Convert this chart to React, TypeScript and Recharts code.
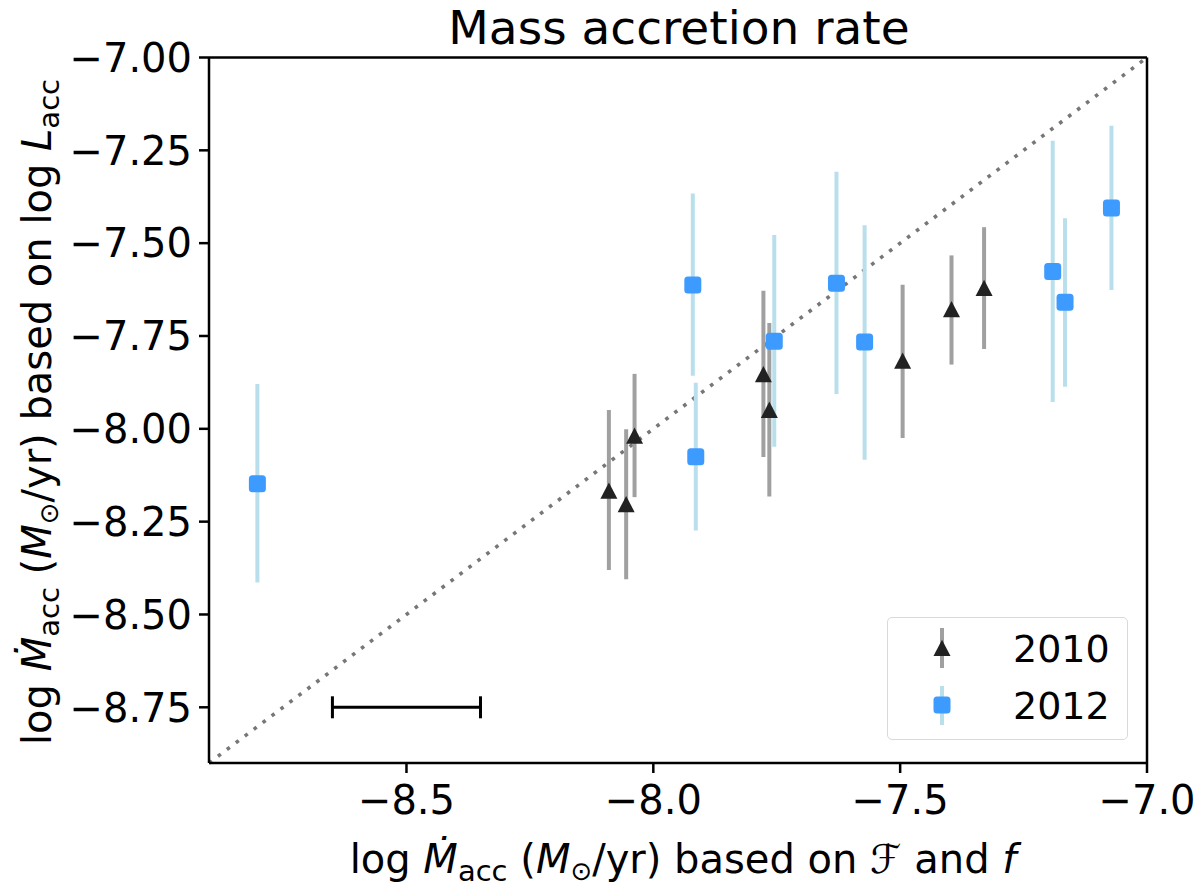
import React from "react";
import { ScatterChart, Scatter, XAxis, YAxis, ErrorBar, ReferenceLine } from "recharts";

// 2010 observations (black triangles)
const x2010 = [-8.09, -8.055, -8.038, -7.777, -7.765, -7.495, -7.396, -7.33];
const y2010 = [-8.167, -8.203, -8.019, -7.853, -7.949, -7.817, -7.678, -7.621];
const lo2010 = [-8.38, -8.405, -8.184, -8.076, -8.182, -8.025, -7.827, -7.785];
const hi2010 = [-7.949, -8.001, -7.852, -7.628, -7.715, -7.612, -7.533, -7.457];

// 2012 observations (blue squares)
const x2012 = [-8.802, -7.92, -7.914, -7.755, -7.629, -7.572, -7.191, -7.166, -7.072];
const y2012 = [-8.148, -7.613, -8.075, -7.764, -7.608, -7.766, -7.576, -7.659, -7.405];
const lo2012 = [-8.414, -7.857, -8.274, -8.048, -7.906, -8.083, -7.928, -7.887, -7.626];
const hi2012 = [-7.879, -7.366, -7.876, -7.478, -7.308, -7.452, -7.224, -7.433, -7.184];

// typical uncertainty bar
const scaleX = [-8.5];
const scaleY = [-8.75];
const scaleErr = [0.15];

const xTicks = [-8.5, -8.0, -7.5, -7.0];
const yTicks = [-7.0, -7.25, -7.5, -7.75, -8.0, -8.25, -8.5, -8.75];
const domain = [-8.9, -7.0];

const toRows = (xs: number[], ys: number[], lo: number[], hi: number[]) =>
  xs.map((x, i) => ({ x, y: ys[i], err: [ys[i] - lo[i], hi[i] - ys[i]] }));

const rows2010 = toRows(x2010, y2010, lo2010, hi2010);
const rows2012 = toRows(x2012, y2012, lo2012, hi2012);
const scaleRows = scaleX.map((x, i) => ({ x, y: scaleY[i], xe: scaleErr[i] }));

const minus = (s: string) => s.replace("-", "\u2212");

const FONT = "'DejaVu Sans', sans-serif";

const Triangle = (props: any) => {
  const { cx, cy } = props;
  return <path d={`M${cx},${cy - 8.3} L${cx + 8.5},${cy + 8} L${cx - 8.5},${cy + 8} Z`} fill="#222" />;
};

const Square = (props: any) => {
  const { cx, cy } = props;
  return <rect x={cx - 8.5} y={cy - 8.5} width={17} height={17} rx={3.5} fill="#3d9bff" />;
};

const Nothing = () => <g />;

export default function App() {
  return (
    <div style={{ position: "absolute", left: 0, top: 0, width: 1200, height: 892, background: "#fff", fontFamily: FONT }}>
      <ScatterChart width={1200} height={892} margin={{ top: 57.5, right: 53, bottom: 69, left: 0 }}>
        <XAxis
          type="number"
          dataKey="x"
          domain={domain}
          ticks={xTicks}
          allowDataOverflow
          height={60}
          tickFormatter={(v) => minus(v.toFixed(1))}
          tick={{ fontSize: 40, fill: "#000", fontFamily: FONT }}
          tickSize={10}
          tickMargin={13}
          axisLine={{ stroke: "#000", strokeWidth: 2.5 }}
          tickLine={{ stroke: "#000", strokeWidth: 2.5 }}
        />
        <YAxis
          type="number"
          dataKey="y"
          domain={domain}
          ticks={yTicks}
          allowDataOverflow
          width={209}
          tickFormatter={(v) => minus(v.toFixed(2))}
          tick={{ fontSize: 40, fill: "#000", fontFamily: FONT }}
          tickSize={10}
          tickMargin={7}
          axisLine={{ stroke: "#000", strokeWidth: 2.5 }}
          tickLine={{ stroke: "#000", strokeWidth: 2.5 }}
        />
        <ReferenceLine y={-7} stroke="#000" strokeWidth={2.5} ifOverflow="visible" />
        <ReferenceLine x={-7} stroke="#000" strokeWidth={2.5} ifOverflow="visible" />
        <ReferenceLine
          segment={[{ x: -8.9, y: -8.9 }, { x: -7, y: -7 }]}
          stroke="#777"
          strokeWidth={3.6}
          strokeDasharray="3.6 7.6"
          ifOverflow="visible"
        />
        <Scatter data={scaleRows} shape={Nothing} isAnimationActive={false}>
          <ErrorBar dataKey="xe" direction="x" width={11} stroke="#000" strokeWidth={3} />
        </Scatter>
        <Scatter data={rows2010} shape={Triangle} isAnimationActive={false}>
          <ErrorBar dataKey="err" direction="y" width={0} stroke="#a0a0a0" strokeWidth={4} />
        </Scatter>
        <Scatter data={rows2012} shape={Square} isAnimationActive={false}>
          <ErrorBar dataKey="err" direction="y" width={0} stroke="#b8dfeb" strokeWidth={4} />
        </Scatter>
      </ScatterChart>

      <div style={{ position: "absolute", left: 0, width: 1358, top: 1, textAlign: "center", fontSize: 47, lineHeight: "54px", color: "#000" }}>
        Mass accretion rate
      </div>

      <svg style={{ position: "absolute", left: 0, top: 0, pointerEvents: "none" }} width={1200} height={892}>
        <text x={683} y={873} textAnchor="middle" fontSize={40} fontFamily={FONT} fill="#000">
          log <tspan fontStyle="italic">M{"\u0307"}</tspan>
          <tspan dy={8} fontSize={29}>acc</tspan>
          <tspan dy={-8}> (</tspan>
          <tspan fontStyle="italic">M</tspan>
          <tspan dy={7} fontSize={26}>{"\u2299"}</tspan>
          <tspan dy={-7}>/yr) based on </tspan>
          <tspan fontStyle="italic">{"\u2131"}</tspan>
          <tspan> and </tspan>
          <tspan fontStyle="italic">f</tspan>
        </text>
        <text x={0} y={0} transform="translate(51,412) rotate(-90)" textAnchor="middle" fontSize={40} fontFamily={FONT} fill="#000">
          log <tspan fontStyle="italic">M{"\u0307"}</tspan>
          <tspan dy={8} fontSize={29}>acc</tspan>
          <tspan dy={-8}> (</tspan>
          <tspan fontStyle="italic">M</tspan>
          <tspan dy={7} fontSize={26}>{"\u2299"}</tspan>
          <tspan dy={-7}>/yr) based on log </tspan>
          <tspan fontStyle="italic">L</tspan>
          <tspan dy={8} fontSize={29}>acc</tspan>
        </text>
      </svg>

      <div
        style={{
          position: "absolute",
          left: 887,
          top: 617,
          width: 241,
          height: 123,
          boxSizing: "border-box",
          border: "1.5px solid #d9d9d9",
          borderRadius: 5,
          background: "rgba(255,255,255,0.8)",
        }}
      >
        <svg width={241} height={123} style={{ position: "absolute", left: -1.5, top: -1.5 }}>
          <line x1={55} x2={55} y1={11} y2={51} stroke="#a0a0a0" strokeWidth={4} />
          <path d="M55,22.7 L63.5,39 L46.5,39 Z" fill="#222" />
          <line x1={55} x2={55} y1={69} y2={108} stroke="#b8dfeb" strokeWidth={4} />
          <rect x={46.5} y={79.5} width={17} height={17} rx={3.5} fill="#3d9bff" />
          <text x={126} y={45} fontSize={38} fontFamily={FONT} fill="#000">2010</text>
          <text x={126} y={102} fontSize={38} fontFamily={FONT} fill="#000">2012</text>
        </svg>
      </div>
    </div>
  );
}
